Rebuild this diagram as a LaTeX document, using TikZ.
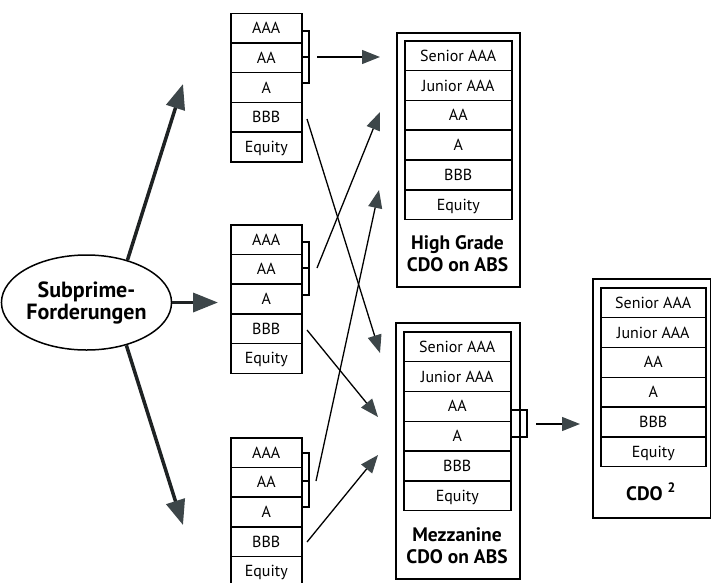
\documentclass[tikz,border=0pt]{standalone}
\usepackage{fontspec}
\setmainfont{PT Sans}
\usetikzlibrary{arrows.meta,shapes.geometric}
\definecolor{headgray}{HTML}{3D4649}
\definecolor{thickline}{HTML}{1E2223}
\begin{document}
\begin{tikzpicture}[x=1pt,y=-1pt,
  tier/.style={draw, line width=1.5pt, minimum width=71pt, minimum height=29.7pt, inner sep=0pt,
    anchor=north west, text height=11pt, text depth=0pt, font=\fontsize{16}{18}\selectfont},
  rtier/.style={tier, minimum width=107pt, minimum height=29.83pt},
  outerbox/.style={draw, line width=2pt, inner sep=0pt, anchor=north west},
  boxlabel/.style={font=\fontsize{19.5}{22}\selectfont\bfseries, align=center},
  thinarrow/.style={line width=1.3pt, -{Triangle[length=18pt,width=14pt,fill=headgray,color=headgray]}},
  thickarrow/.style={line width=3.5pt, color=thickline, -{Triangle[length=25pt,width=19pt,fill=headgray,color=headgray]}},
  bracketline/.style={line width=1.4pt}
]
\useasboundingbox (0,0) rectangle (711,582);

% source ellipse
\node[ellipse, draw, line width=1.5pt, minimum width=159pt, minimum height=95pt, inner sep=0pt,
  font=\fontsize{22}{22}\selectfont\bfseries, align=center] (ell) at (86.5,302.5) {Subprime-\\Forderungen};

% left tranche stacks
\foreach \lab [count=\i] in {AAA,AA,A,BBB,Equity} {
  \node[tier] (sa-\i) at (230, 12.5+29.7*\i-29.7) {\lab};
  \node[tier] (sb-\i) at (230, 224+29.7*\i-29.7) {\lab};
  \node[tier] (sc-\i) at (230, 437+29.7*\i-29.7) {\lab};
}

% brackets on left stacks
\draw[bracketline] (301,31) -- (309,31) -- (309,83) -- (301,83) (301,57) -- (309,57);
\draw[bracketline] (301,242) -- (309,242) -- (309,295) -- (301,295) (301,268) -- (309,268);
\draw[bracketline] (301,453) -- (309,453) -- (309,507) -- (301,507) (301,481) -- (309,481);

% High Grade CDO
\node[outerbox, minimum width=123pt, minimum height=254pt] (hg) at (396,32) {};
\foreach \lab [count=\i] in {Senior AAA,Junior AAA,AA,A,BBB,Equity} {
  \node[rtier] (hg-\i) at (404, 40+29.83*\i-29.83) {\lab};
}
\node[boxlabel] (hglab) at (457.5,254) {High Grade\\CDO on ABS};

% Mezzanine CDO
\node[outerbox, minimum width=124pt, minimum height=256pt] (mz) at (395,322) {};
\foreach \lab [count=\i] in {Senior AAA,Junior AAA,AA,A,BBB,Equity} {
  \node[rtier] (mz-\i) at (403, 331+29.83*\i-29.83) {\lab};
}
\node[boxlabel] (mzlab) at (457,546) {Mezzanine\\CDO on ABS};
\draw[bracketline] (510,410) -- (527,410) -- (527,437) -- (510,437);

% CDO^2
\node[outerbox, minimum width=117.5pt, minimum height=239pt] (cdo) at (592,278) {};
\foreach \lab [count=\i] in {Senior AAA,Junior AAA,AA,A,BBB,Equity} {
  \node[rtier, minimum width=105pt] (cd-\i) at (600, 287+29.83*\i-29.83) {\lab};
}
\node[boxlabel] (cdlab) at (651,492) {CDO \textsuperscript{2}};

% connector end points
\coordinate (ba) at (317,57);
\coordinate (bb) at (317,268);
\coordinate (bc) at (316,481);
\coordinate (xa) at (307,119);
\coordinate (xb) at (307,330);
\coordinate (xc) at (307,542);
\coordinate (h1) at (380,57);
\coordinate (h2) at (380,112);
\coordinate (h3) at (379,190);
\coordinate (m1) at (380,353);
\coordinate (m2) at (378,417);
\coordinate (m3) at (378,455);
\coordinate (mb) at (536,424);
\coordinate (c1) at (580,424);
\coordinate (tu) at (183,84);
\coordinate (tm) at (218,302.5);
\coordinate (td) at (183,525);

% thin arrows
\draw[thinarrow] (ba) -- (h1);
\draw[thinarrow] (xa) -- (m1);
\draw[thinarrow] (bb) -- (h2);
\draw[thinarrow] (xb) -- (m2);
\draw[thinarrow] (bc) -- (h3);
\draw[thinarrow] (xc) -- (m3);
\draw[thinarrow] (mb) -- (c1);

% thick arrows
\draw[thickarrow] (ell.46) -- (tu);
\draw[thickarrow] (ell.east) -- (tm);
\draw[thickarrow] (ell.-47) -- (td);
\end{tikzpicture}
\end{document}
